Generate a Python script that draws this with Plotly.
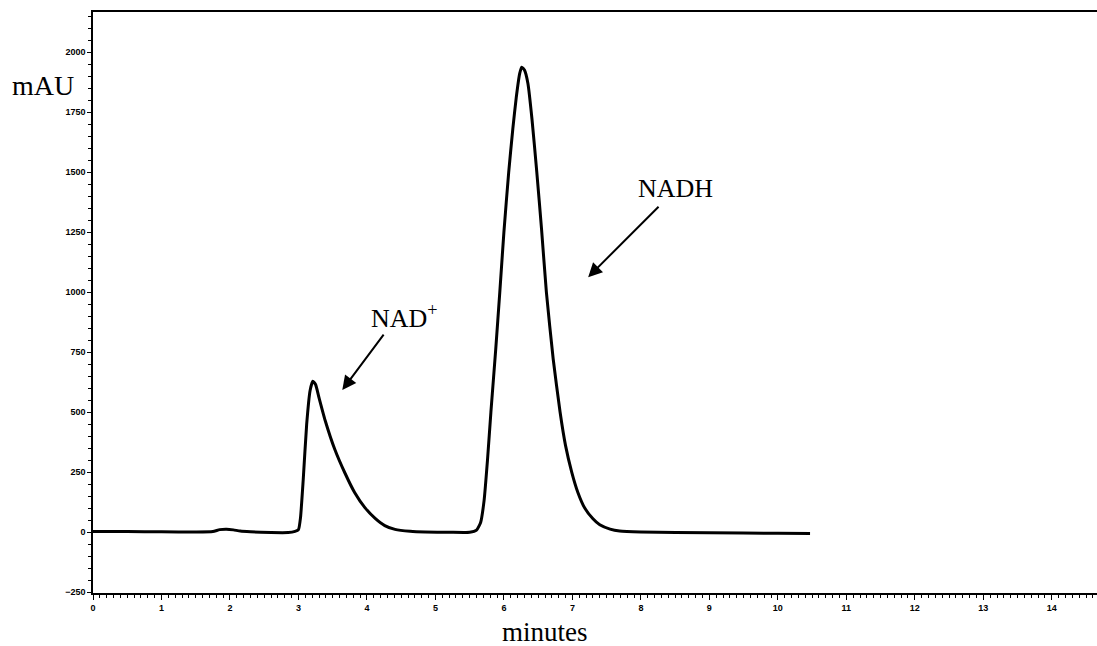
import plotly.graph_objects as go

# Chromatogram trace (minutes vs mAU)
time_min = [0, 0.5, 1.0, 1.5, 1.75, 1.85, 1.95, 2.05, 2.15, 2.3, 2.6, 2.85, 2.95, 3.0, 3.03,
            3.07, 3.12, 3.17, 3.21, 3.25, 3.3, 3.39, 3.53, 3.68, 3.82, 3.97, 4.12, 4.26, 4.41,
            4.63, 4.85, 5.2, 5.5, 5.6, 5.66, 5.71, 5.76, 5.81, 5.88, 5.94, 6.0, 6.07, 6.13, 6.18,
            6.23, 6.26, 6.3, 6.35, 6.41, 6.48, 6.55, 6.62, 6.72, 6.82, 6.9, 6.99, 7.08, 7.18,
            7.3, 7.4, 7.55, 7.69, 8.0, 9.0, 10.0, 10.47]
absorbance_mAU = [2, 2, 1, 0, 2, 10, 12, 9, 4, 1, -2, -2, 3, 10, 60,
                  220, 450, 590, 628, 615, 560, 465, 345, 245, 165, 102, 57, 27, 11,
                  3, 0, -1, -1, 8, 40, 130, 300, 500, 760, 1000, 1250, 1500, 1680, 1810,
                  1910, 1937, 1925, 1870, 1720, 1500, 1260, 1000, 720, 500, 360, 250, 165, 100,
                  55, 30, 12, 4, 0, -3, -5, -6]

x_ticks = list(range(0, 15))
y_ticks = [-250, 0, 250, 500, 750, 1000, 1250, 1500, 1750, 2000]

# Peak labels: (label, text x, text y, arrow tail x, tail y, head x, head y)
peak_labels = ["NAD<sup>+</sup>", "NADH"]
label_x = [4.55, 8.51]
label_y = [900, 1433]
arrow_tail_x = [4.26, 8.28]
arrow_tail_y = [829, 1362]
arrow_head_x = [3.64, 7.23]
arrow_head_y = [592, 1062]

serif = "Liberation Serif, Times New Roman, serif"
sans = "Liberation Sans, Arial, sans-serif"

fig = go.Figure()
fig.add_trace(go.Scatter(
    x=time_min, y=absorbance_mAU, mode="lines",
    line=dict(color="black", width=3, shape="spline", smoothing=0.5),
    showlegend=False, hoverinfo="skip"))

for lab, tx, ty, ax_, ay_, hx, hy in zip(peak_labels, label_x, label_y,
                                         arrow_tail_x, arrow_tail_y, arrow_head_x, arrow_head_y):
    fig.add_annotation(x=tx, y=ty, text=lab, showarrow=False,
                       font=dict(family=serif, size=26, color="black"))
    fig.add_annotation(x=hx, y=hy, ax=ax_, ay=ay_, axref="x", ayref="y", xref="x", yref="y",
                       text="", showarrow=True, arrowhead=2, arrowsize=1.4, arrowwidth=2,
                       arrowcolor="black", standoff=0, startstandoff=0)

fig.add_annotation(xref="paper", yref="paper", x=-0.0827, y=0.874, xanchor="left", yanchor="middle",
                   text="mAU", showarrow=False, font=dict(family=serif, size=28, color="black"))
fig.add_annotation(xref="paper", yref="paper", x=0.45, y=-0.067, xanchor="center", yanchor="middle",
                   text="minutes", showarrow=False, font=dict(family=serif, size=27, color="black"))

fig.update_layout(
    width=1097, height=646,
    margin=dict(l=93, r=0, t=12, b=53, autoexpand=False),
    paper_bgcolor="white", plot_bgcolor="white",
    showlegend=False,
    xaxis=dict(
        range=[0, 14.66], tickvals=x_ticks, showgrid=False, zeroline=False, automargin=False,
        showline=True, linecolor="black", linewidth=1.5, mirror=True,
        ticks="outside", ticklen=5, tickwidth=1, tickcolor="black",
        minor=dict(dtick=0.1, tick0=0, ticks="outside", ticklen=3, tickcolor="black", showgrid=False),
        tickfont=dict(family=sans, size=9, color="black", weight="bold"),
    ),
    yaxis=dict(
        range=[-254, 2167], tickvals=y_ticks, showgrid=False, zeroline=False, automargin=False,
        showline=True, linecolor="black", linewidth=1.5,
        ticks="outside", ticklen=4, tickwidth=1, tickcolor="black",
        minor=dict(dtick=50, tick0=0, ticks="outside", ticklen=3, tickcolor="black", showgrid=False),
        tickfont=dict(family=sans, size=9, color="black", weight="bold"),
    ),
)

fig.write_html(
    "out.html",
    config={"displayModeBar": False},
    post_script="document.body.style.margin='0px';document.body.style.overflow='hidden';",
)
